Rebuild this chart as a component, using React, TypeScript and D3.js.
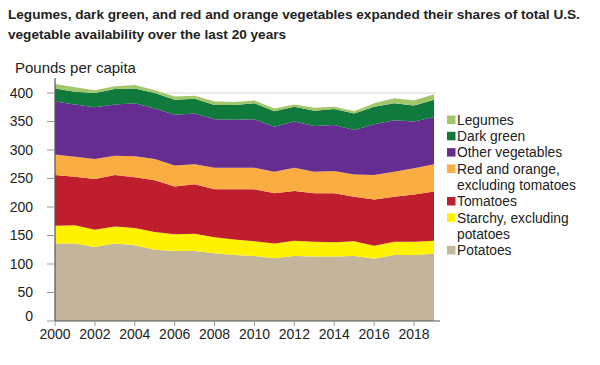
import React from "react";
import * as d3 from "d3";

const years = [2000, 2001, 2002, 2003, 2004, 2005, 2006, 2007, 2008, 2009, 2010, 2011, 2012, 2013, 2014, 2015, 2016, 2017, 2018, 2019];
const potatoes = [136, 136, 130, 136, 133, 125, 123, 123, 119, 116, 114, 110, 114, 113, 113, 114, 109, 116, 116, 118];
const starchy = [31, 32, 30, 30, 30, 31, 29, 30, 28, 27, 26, 26, 27, 26, 25, 26, 23, 23, 23, 23];
const tomatoes = [89, 85, 89, 90, 89, 91, 84, 87, 84, 88, 91, 88, 87, 85, 86, 78, 81, 79, 83, 86];
const redOrange = [36, 35, 35, 34, 37, 37, 37, 35, 38, 38, 38, 38, 41, 38, 39, 39, 43, 44, 46, 48];
const otherVeg = [93, 92, 91, 90, 93, 89, 89, 89, 85, 84, 85, 79, 81, 80, 81, 78, 89, 90, 82, 83];
const darkGreen = [23, 22, 25, 27, 26, 27, 26, 26, 25, 26, 28, 27, 26, 27, 28, 29, 31, 30, 28, 30];
const legumes = [8, 8, 5, 5, 6, 5, 6, 5, 6, 5, 5, 5, 4, 5, 4, 4, 6, 9, 9, 10];

const seriesKeys = ["potatoes", "starchy", "tomatoes", "redOrange", "otherVeg", "darkGreen", "legumes"];
const seriesColors = ["#c3b59b", "#fff200", "#be1e2d", "#fbad42", "#662d91", "#107a3d", "#a3c66a"];
const legendLabels: string[][] = [
  ["Legumes"],
  ["Dark green"],
  ["Other vegetables"],
  ["Red and orange,", "excluding tomatoes"],
  ["Tomatoes"],
  ["Starchy, excluding", "potatoes"],
  ["Potatoes"],
];
const legendColors = ["#a3c66a", "#107a3d", "#662d91", "#fbad42", "#be1e2d", "#fff200", "#c3b59b"];
const yTicks = [0, 50, 100, 150, 200, 250, 300, 350, 400];
const xTicks = [2000, 2002, 2004, 2006, 2008, 2010, 2012, 2014, 2016, 2018];
const titleLines = [
  "Legumes, dark green, and red and orange vegetables expanded their shares of total U.S.",
  "vegetable availability over the last 20 years",
];

export default function App() {
  const font = "'Liberation Sans', Arial, sans-serif";
  const x = d3.scaleLinear().domain([2000, 2019]).range([55, 434]);
  const y = d3.scaleLinear().domain([0, 400]).range([321, 93]);
  const rows = years.map((yr, i) => ({
    year: yr,
    potatoes: potatoes[i],
    starchy: starchy[i],
    tomatoes: tomatoes[i],
    redOrange: redOrange[i],
    otherVeg: otherVeg[i],
    darkGreen: darkGreen[i],
    legumes: legumes[i],
  }));
  const stacked = d3.stack<any>().keys(seriesKeys)(rows);
  const area = d3
    .area<any>()
    .x((d) => x(d.data.year))
    .y0((d) => y(d[0]))
    .y1((d) => y(d[1]));

  let legendRow = 0;
  const legendItems = legendLabels.map((lines, i) => {
    const top = 120 + legendRow * 16.3;
    legendRow += lines.length;
    return (
      <g key={i}>
        <rect x={447} y={top - 4.5} width={8.5} height={8.5} fill={legendColors[i]} />
        {lines.map((ln, j) => (
          <text key={j} x={457} y={top + j * 16.3} dy="0.35em" fontSize={13.8} fill="#222">
            {ln}
          </text>
        ))}
      </g>
    );
  });

  return (
    <svg width={600} height={365} style={{ position: "absolute", left: 0, top: 0, background: "#fff" }} fontFamily={font}>
      {titleLines.map((t, i) => (
        <text key={i} x={8} y={19 + i * 20} fontSize={13.6} fontWeight="bold" fill="#222">
          {t}
        </text>
      ))}
      <text x={15} y={68} dy="0.35em" fontSize={15} fill="#222">
        Pounds per capita
      </text>
      <line x1={55} x2={436} y1={y(400)} y2={y(400)} stroke="#d8d8d8" strokeWidth={1} />
      {stacked.map((s, i) => (
        <path key={s.key} d={area(s) || ""} fill={seriesColors[i]} />
      ))}
      <line x1={55} x2={55} y1={78} y2={321} stroke="#555" strokeWidth={1.2} />
      <line x1={55} x2={440} y1={321} y2={321} stroke="#555" strokeWidth={1.2} />
      {yTicks.map((t) => (
        <g key={t}>
          <line x1={47} x2={54} y1={y(t)} y2={y(t)} stroke="#999" strokeWidth={1} />
          <text x={33} y={y(t) - (t === 0 ? 5 : 0)} dy="0.35em" textAnchor="end" fontSize={14} fill="#222">
            {t}
          </text>
        </g>
      ))}
      {xTicks.map((t) => (
        <g key={t}>
          <line x1={x(t)} x2={x(t)} y1={321} y2={326} stroke="#999" strokeWidth={1} />
          <text x={x(t)} y={334} dy="0.35em" textAnchor="middle" fontSize={14} fill="#222">
            {t}
          </text>
        </g>
      ))}
      {legendItems}
    </svg>
  );
}
